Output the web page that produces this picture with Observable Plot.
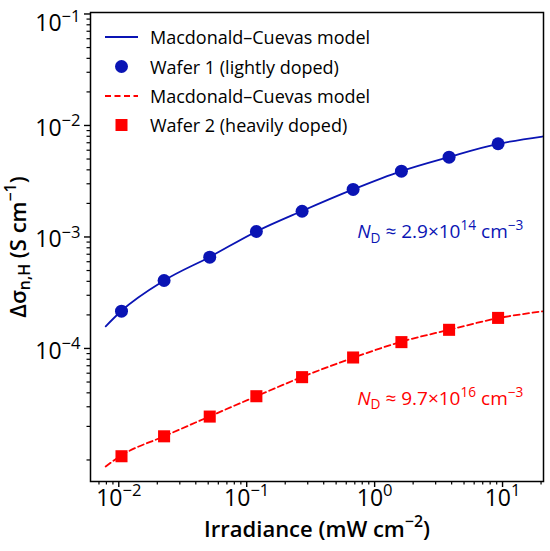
<!DOCTYPE html>
<html><head><meta charset="utf-8">
<script src="https://cdn.jsdelivr.net/npm/d3@7"></script>
<script src="https://cdn.jsdelivr.net/npm/@observablehq/plot@0.6"></script>
<style>
body{margin:0;background:#fff}
#wrap{position:relative;width:550px;height:551px;font-family:"Open Sans",sans-serif}
#legend{position:absolute;left:0;top:0;pointer-events:none}
</style>
</head><body><div id="wrap"></div>
<script>
// ---- data ----
const irradiance = [0.0105, 0.0226, 0.0514, 0.119, 0.271, 0.679, 1.62, 3.82, 9.23];
const wafer1 = [2.16e-4, 4.07e-4, 6.59e-4, 1.12e-3, 1.70e-3, 2.67e-3, 3.89e-3, 5.20e-3, 6.86e-3];
const wafer2 = [1.08e-5, 1.63e-5, 2.45e-5, 3.73e-5, 5.53e-5, 8.30e-5, 1.14e-4, 1.47e-4, 1.88e-4];
const modelX = [0.0079, 0.0105, 0.0226, 0.0514, 0.119, 0.271, 0.679, 1.62, 3.82, 9.23, 20.5];
const model1 = [1.58e-4, 2.18e-4, 4.07e-4, 6.62e-4, 1.12e-3, 1.71e-3, 2.67e-3, 3.90e-3, 5.22e-3, 6.84e-3, 7.96e-3];
const model2 = [8.75e-6, 1.10e-5, 1.63e-5, 2.46e-5, 3.73e-5, 5.55e-5, 8.25e-5, 1.15e-4, 1.47e-4, 1.87e-4, 2.15e-4];
const xMajor = [1e-2, 1e-1, 1, 10];
const yMajor = [1e-4, 1e-3, 1e-2, 1e-1];
const annoX = [0.73, 0.73];
const annoY = [1.10e-3, 3.54e-5];
const annoLabel = ["*N*_{D} ≈ 2.9×10^{14} cm^{−3}", "*N*_{D} ≈ 9.7×10^{16} cm^{−3}"];
const legendLabels = ["Macdonald–Cuevas model", "Wafer 1 (lightly doped)", "Macdonald–Cuevas model", "Wafer 2 (heavily doped)"];
const xLabel = "Irradiance (mW cm^{−2})";
const yLabel = "Δσ_{n,H} (S cm^{−1})";

const BLUE = "#0a14b4", RED = "#ff0000";

// minor ticks (positions only)
const xMinor = [];
for (let e = -3; e <= 1; e++) for (let m = 2; m <= 9; m++) { const v = m * 10 ** e; if (v >= 0.0065 && v <= 20.9) xMinor.push(v); }
const yMinor = [1e-5];
for (let e = -5; e <= -2; e++) for (let m = 2; m <= 9; m++) yMinor.push(m * 10 ** e);

const pw = (v) => "10^{" + String(Math.round(Math.log10(v))).replace("-", "−") + "}";

const pts1 = irradiance.map((x, i) => ({x, y: wafer1[i]}));
const pts2 = irradiance.map((x, i) => ({x, y: wafer2[i]}));
const m1 = modelX.map((x, i) => ({x, y: model1[i]}));
const m2 = modelX.map((x, i) => ({x, y: model2[i]}));
const anno = annoX.map((x, i) => ({x, y: annoY[i], label: annoLabel[i], c: i === 0 ? BLUE : RED}));

const chart = Plot.plot({
  width: 550, height: 551,
  marginLeft: 90, marginRight: 7, marginTop: 12, marginBottom: 70,
  style: {fontFamily: "'Open Sans', sans-serif", fontSize: "21px", color: "black", background: "white", overflow: "visible"},
  x: {type: "log", domain: [0.00601, 20.9]},
  y: {type: "log", domain: [6.41e-6, 0.1031]},
  marks: [
    Plot.axisX(xMinor, {tickSize: 3.5, tickFormat: () => "", label: null, strokeWidth: 1.2}),
    Plot.axisY(yMinor, {tickSize: 3.5, tickFormat: () => "", label: null, strokeWidth: 1.2}),
    Plot.axisX(xMajor, {tickSize: 6, tickPadding: 2, tickFormat: pw, label: null, fontSize: 23, fontWeight: 500, strokeWidth: 1.4}),
    Plot.axisY(yMajor, {tickSize: 6, tickPadding: 4, tickFormat: pw, label: null, fontSize: 23, fontWeight: 500, strokeWidth: 1.4}),
    Plot.line(m1, {x: "x", y: "y", stroke: BLUE, strokeWidth: 1.8, curve: "monotone-x"}),
    Plot.line(m2, {x: "x", y: "y", stroke: RED, strokeWidth: 1.8, strokeDasharray: "6,3.5", curve: "monotone-x"}),
    Plot.dot(pts1, {x: "x", y: "y", r: 6.5, fill: BLUE}),
    Plot.dot(pts2, {x: "x", y: "y", r: 6.8, fill: RED, symbol: "square"}),
    Plot.text(anno, {x: "x", y: "y", text: "label", fill: "c", textAnchor: "start", fontSize: 19}),
    Plot.text([xLabel], {frameAnchor: "bottom", textAnchor: "middle", lineAnchor: "middle", dy: 48, fontSize: 22, fontWeight: 600}),
    Plot.text([yLabel], {frameAnchor: "left", textAnchor: "middle", lineAnchor: "middle", dx: -72, rotate: -90, fontSize: 22, fontWeight: 600}),
    Plot.frame({stroke: "black", strokeWidth: 1.5})
  ]
});
const wrap = document.getElementById("wrap");
wrap.appendChild(chart);

// legend overlay
const NS = "http://www.w3.org/2000/svg";
const lg = document.createElementNS(NS, "svg");
lg.setAttribute("id", "legend"); lg.setAttribute("width", 550); lg.setAttribute("height", 551);
const rows = [37, 66.5, 96, 125];
const add = (tag, attrs) => { const e = document.createElementNS(NS, tag); for (const k in attrs) e.setAttribute(k, attrs[k]); lg.appendChild(e); return e; };
add("line", {x1: 105, x2: 138, y1: rows[0], y2: rows[0], stroke: BLUE, "stroke-width": 1.8});
add("circle", {cx: 121.5, cy: rows[1], r: 6.5, fill: BLUE});
add("line", {x1: 105, x2: 138, y1: rows[2], y2: rows[2], stroke: RED, "stroke-width": 1.8, "stroke-dasharray": "6,3.5"});
add("rect", {x: 115.5, y: rows[3] - 6, width: 12, height: 12, fill: RED});
legendLabels.forEach((t, i) => {
  const tx = add("text", {x: 150, y: rows[i], "dominant-baseline": "central", "font-size": 18, "font-family": "'Open Sans', sans-serif", fill: "black"});
  tx.textContent = t;
});
wrap.appendChild(lg);

// markup: ^{sup} _{sub} *italic*
function markup(el) {
  const s = el.textContent;
  if (!/(\^\{|_\{|\*)/.test(s)) return;
  const fs = parseFloat(getComputedStyle(el).fontSize) || 16;
  el.textContent = "";
  const parts = s.split(/(\^\{[^}]*\}|_\{[^}]*\}|\*[^*]+\*)/g).filter(p => p);
  let shift = 0;
  for (const p of parts) {
    const ts = document.createElementNS(NS, "tspan");
    let txt = p, target = 0;
    if (p.startsWith("^{")) { txt = p.slice(2, -1); target = -0.42 * fs; ts.setAttribute("font-size", 0.72 * fs); }
    else if (p.startsWith("_{")) { txt = p.slice(2, -1); target = 0.22 * fs; ts.setAttribute("font-size", 0.72 * fs); }
    else if (p.startsWith("*")) { txt = p.slice(1, -1); ts.setAttribute("font-style", "italic"); }
    if (target - shift !== 0) ts.setAttribute("dy", target - shift);
    shift = target;
    ts.textContent = txt;
    el.appendChild(ts);
  }
}
chart.querySelectorAll("text, tspan").forEach(el => {
  if (el.children.length !== 0) return;
  const original = el.textContent;
  const yTick = el.closest('g[aria-label="y-axis tick label"]');
  markup(el);
  if (yTick && original) {
    const host = el.tagName === "tspan" ? el.parentNode : el;
    const extra = original === "10^{−1}" ? 10 : 3;
    host.setAttribute("transform", (host.getAttribute("transform") || "") + ` translate(0,${extra})`);
  }
});
</script>
</body></html>
